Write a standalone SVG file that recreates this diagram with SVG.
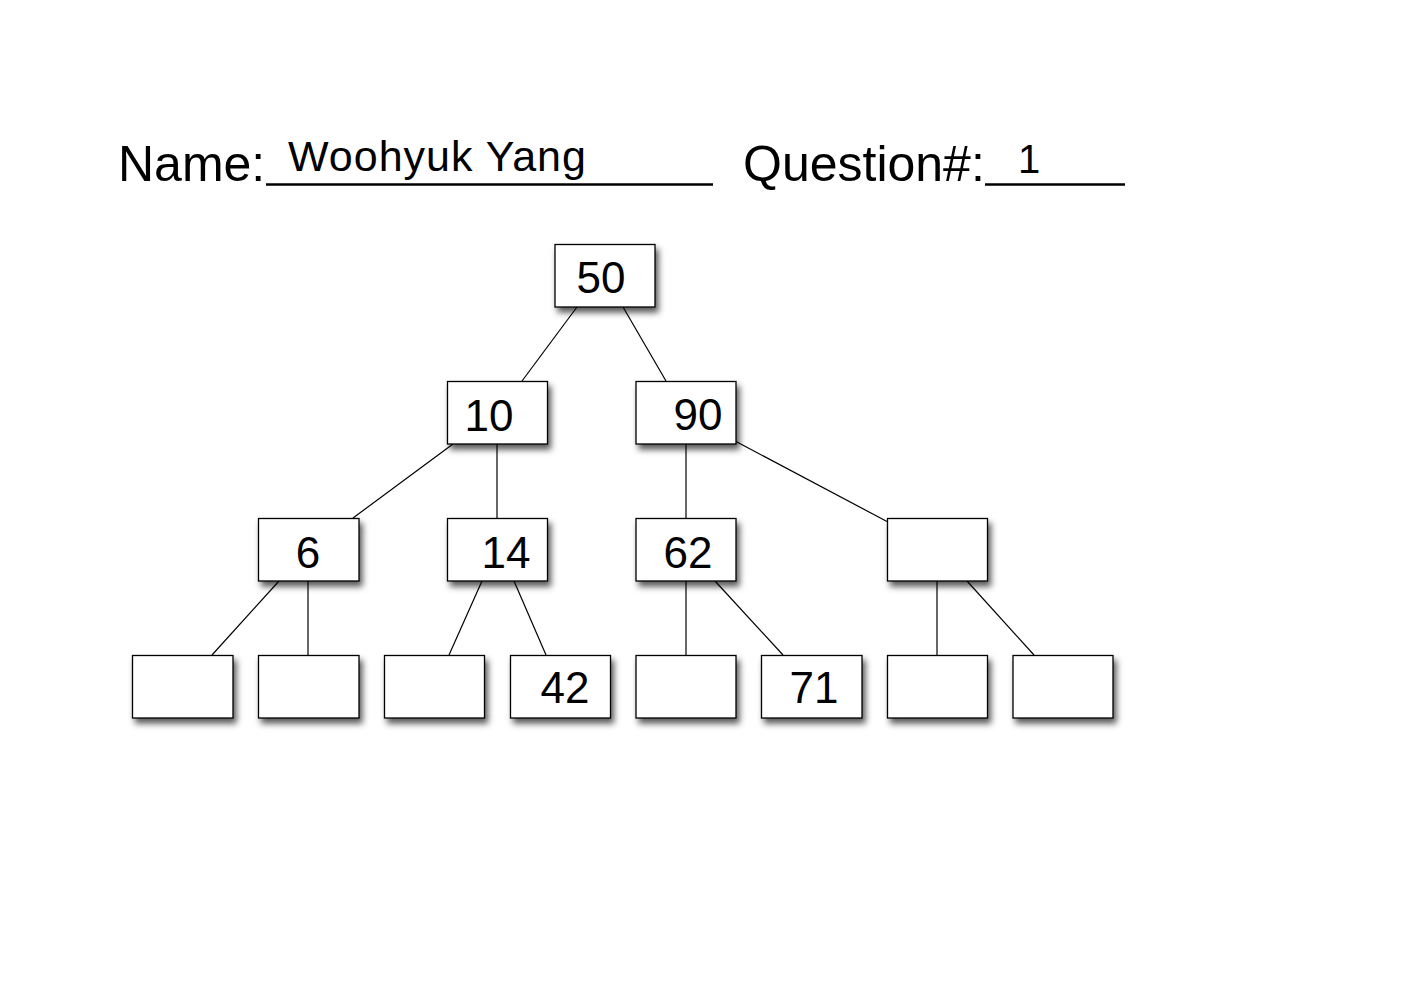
<svg xmlns="http://www.w3.org/2000/svg" width="1403" height="992" viewBox="0 0 1403 992">
<defs>
<style>
.hdr{font-family:"Liberation Sans",Arial,sans-serif;fill:#000}
.box{fill:#fff;stroke:#000;stroke-width:1.3;filter:url(#sh)}
.lbl{font-family:"Liberation Sans",Arial,sans-serif;font-size:44px;fill:#000;text-anchor:middle}
.edge{stroke:#000;stroke-width:1.2;fill:none}
.ul{stroke:#000;stroke-width:2.5}
</style>
<filter id="sh" x="-20%" y="-20%" width="150%" height="160%">
<feDropShadow dx="3" dy="5" stdDeviation="3" flood-color="#000" flood-opacity="0.65"/>
</filter>
</defs>
<rect width="1403" height="992" fill="#fff"/>
<g id="header">
<text class="hdr" x="118" y="181" font-size="50">Name:</text>
<line class="ul" x1="266" y1="184.5" x2="713" y2="184.5"/>
<text class="hdr" x="288" y="171" font-size="43" letter-spacing="1">Woohyuk Yang</text>
<text class="hdr" x="743" y="181" font-size="50">Question#:</text>
<line class="ul" x1="985" y1="184.5" x2="1125" y2="184.5"/>
<text class="hdr" x="1018" y="173" font-size="40">1</text>
</g>
<g id="connectors">
<line class="edge" x1="577" y1="307" x2="522" y2="381"/>
<line class="edge" x1="623" y1="307" x2="666" y2="381"/>
<line class="edge" x1="453" y1="444" x2="353" y2="518"/>
<line class="edge" x1="497" y1="444" x2="497" y2="518"/>
<line class="edge" x1="686" y1="444" x2="686" y2="518"/>
<line class="edge" x1="736" y1="441.5" x2="887" y2="521.5"/>
<line class="edge" x1="279" y1="581" x2="212" y2="655"/>
<line class="edge" x1="308" y1="581" x2="308" y2="655"/>
<line class="edge" x1="482" y1="581" x2="449" y2="655"/>
<line class="edge" x1="514" y1="581" x2="546" y2="655"/>
<line class="edge" x1="686" y1="581" x2="686" y2="655"/>
<line class="edge" x1="715" y1="581" x2="783" y2="655"/>
<line class="edge" x1="937" y1="581" x2="937" y2="655"/>
<line class="edge" x1="967" y1="581" x2="1034" y2="655"/>
</g>
<g id="n50"><rect class="box" x="555" y="244.5" width="100" height="62.5"/><text class="lbl" x="601" y="293">50</text></g>
<g id="n10"><rect class="box" x="447.5" y="381.5" width="100" height="62.5"/><text class="lbl" x="489" y="431">10</text></g>
<g id="n90"><rect class="box" x="636" y="381.5" width="100" height="62.5"/><text class="lbl" x="698" y="430">90</text></g>
<g id="n6"><rect class="box" x="258.5" y="518.5" width="100.5" height="62.5"/><text class="lbl" x="308" y="568">6</text></g>
<g id="n14"><rect class="box" x="447.5" y="518.5" width="100" height="62.5"/><text class="lbl" x="506" y="568">14</text></g>
<g id="n62"><rect class="box" x="636" y="518.5" width="100" height="62.5"/><text class="lbl" x="688" y="568">62</text></g>
<g id="nR"><rect class="box" x="887.5" y="518.5" width="100" height="62.5"/></g>
<g id="l1"><rect class="box" x="132.5" y="655.5" width="100.5" height="62.5"/></g>
<g id="l2"><rect class="box" x="258.5" y="655.5" width="100.5" height="62.5"/></g>
<g id="l3"><rect class="box" x="384.5" y="655.5" width="100" height="62.5"/></g>
<g id="l4"><rect class="box" x="510.5" y="655.5" width="100" height="62.5"/><text class="lbl" x="565" y="703">42</text></g>
<g id="l5"><rect class="box" x="636" y="655.5" width="100" height="62.5"/></g>
<g id="l6"><rect class="box" x="761.5" y="655.5" width="100.5" height="62.5"/><text class="lbl" x="814" y="703">71</text></g>
<g id="l7"><rect class="box" x="887.5" y="655.5" width="100" height="62.5"/></g>
<g id="l8"><rect class="box" x="1013" y="655.5" width="100" height="62.5"/></g>
</svg>
